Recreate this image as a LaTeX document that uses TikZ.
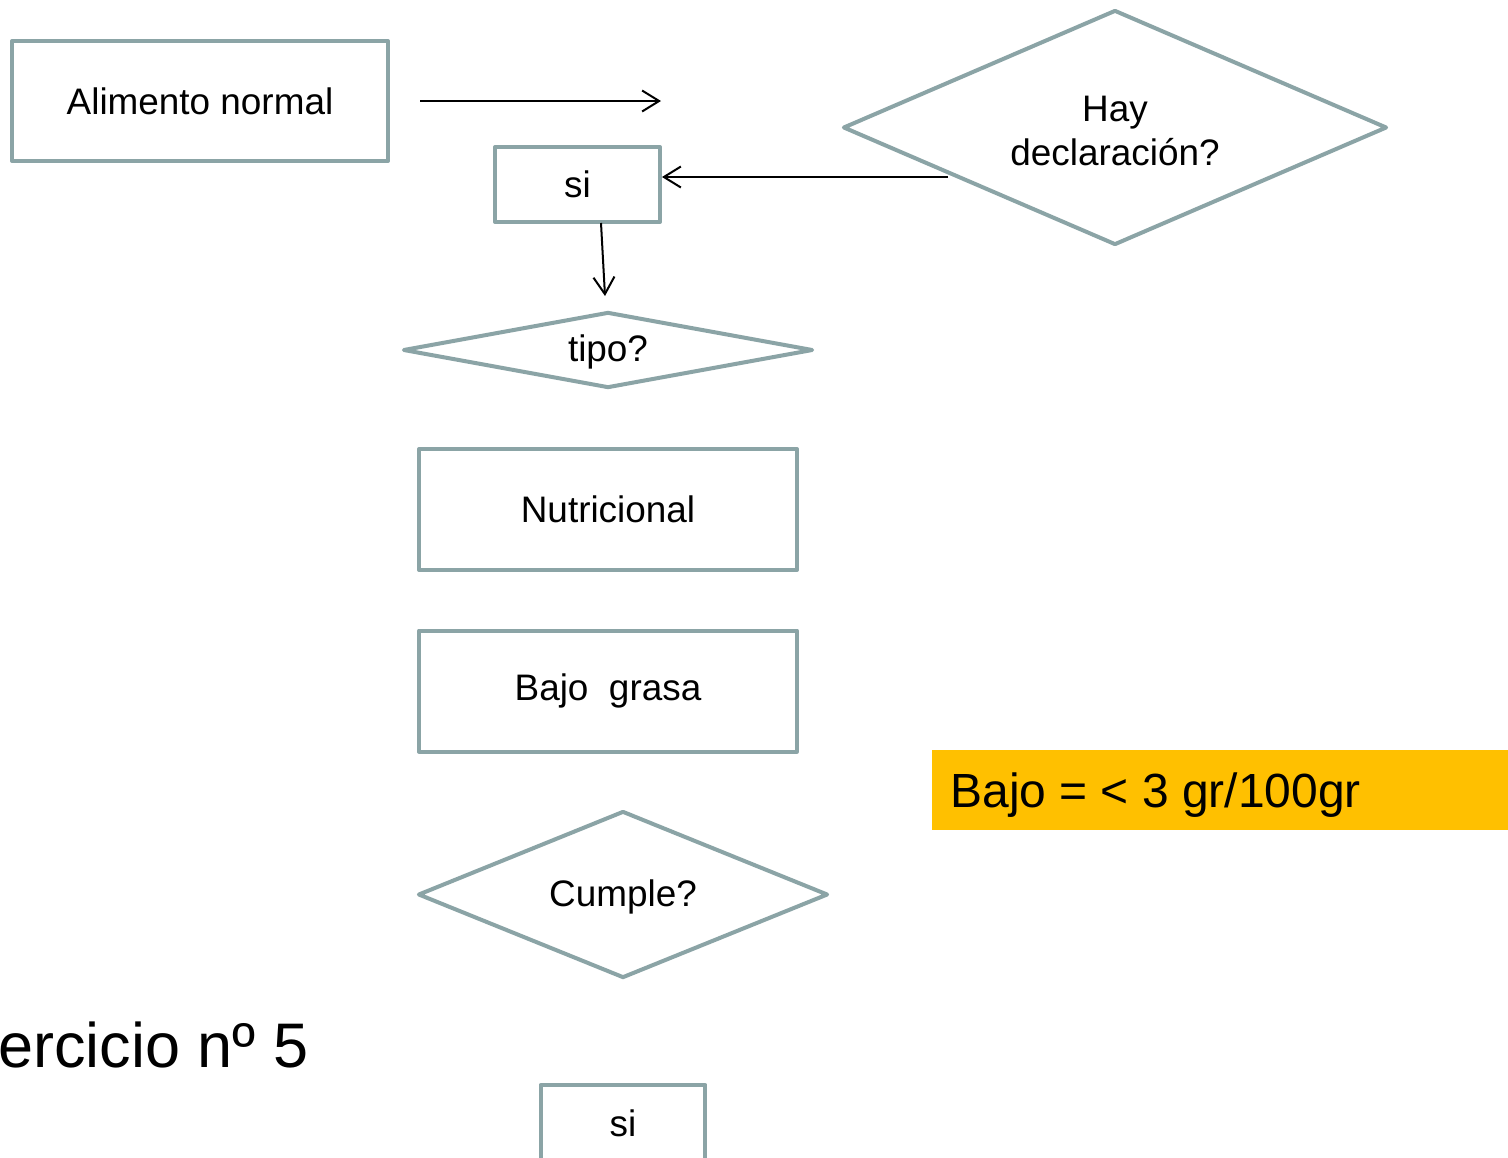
\documentclass[tikz,border=0pt]{standalone}
\usepackage{fontspec}
\setmainfont{Liberation Sans}
\usetikzlibrary{shapes.geometric,arrows.meta}
\definecolor{edgegray}{RGB}{139,164,166}
\definecolor{hlorange}{RGB}{255,192,0}
\tikzset{
  box/.style={draw=edgegray, line width=0.08cm, rectangle, inner sep=0pt, line join=round,
    font=\fontsize{21}{25}\selectfont, align=center},
  dia/.style={draw=edgegray, line width=0.08cm, diamond, inner sep=0pt, line join=round},
  lbl/.style={inner sep=0pt, font=\fontsize{21}{25}\selectfont, align=center},
  conn/.style={draw=black, line width=0.04cm, -{Straight Barb[length=0.34cm,width=0.42cm,line width=0.04cm]}},
}
\begin{document}
\begin{tikzpicture}[x=0.02cm,y=-0.02cm]
\clip (0,0) rectangle (1508,1157);
\fill[white] (0,0) rectangle (1508,1157);

% boxes
\node[box, minimum width=7.52cm, minimum height=2.40cm] (alim) at (200,101) {Alimento normal};
\node[box, minimum width=3.30cm, minimum height=1.50cm] (si1) at (577.5,184.5) {si};
\node[box, minimum width=7.56cm, minimum height=2.42cm] (nutri) at (608,509.5) {Nutricional};
\node[box, minimum width=7.56cm, minimum height=2.42cm] (bajo) at (608,691) {Bajo\ \ grasa};
\node[box, minimum width=3.30cm, minimum height=1.80cm] (si2) at (623,1130) {};
\node[lbl] (si2txt) at (623,1123) {si};

% diamonds
\node[dia, minimum width=10.88cm, minimum height=4.70cm] (hay) at (1115,127.5) {};
\node[lbl] (haytxt) at (1115,131) {Hay\\declaración?};
\node[dia, minimum width=8.20cm, minimum height=1.52cm] (tipo) at (608,350) {};
\node[lbl] (tipotxt) at (608,352) {tipo?};
\node[dia, minimum width=8.20cm, minimum height=3.34cm] (cumple) at (623,894.5) {};
\node[lbl] (cumpletxt) at (623,897) {Cumple?};

% highlight
\fill[hlorange] (932,750) rectangle (1508,830);
\node[anchor=base west, inner sep=0pt, font=\fontsize{27.3}{32}\selectfont] (bajotxt) at (950,807) {Bajo = < 3 gr/100gr};

% title fragment
\node[anchor=base east, inner sep=0pt, font=\fontsize{35.85}{42}\selectfont] (titulo) at (308.5,1067) {ercicio nº 5};

% connectors
\coordinate (a1s) at (420,101);
\coordinate (a1e) at (661,101);
\coordinate (a2s) at (948,177);
\coordinate (a3s) at (601,223);
\coordinate (a3e) at (605,296);
\draw[conn] (a1s) -- (a1e);
\draw[conn] (a2s) -- (a2s -| si1.east);
\draw[conn] (a3s) -- (a3e);
\end{tikzpicture}
\end{document}
